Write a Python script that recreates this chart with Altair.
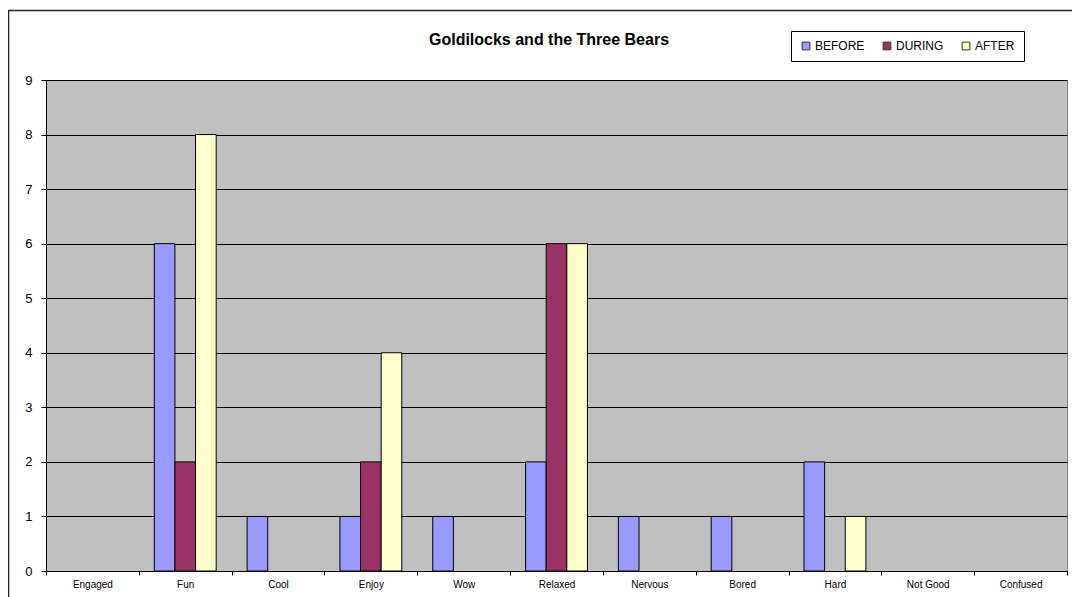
import altair as alt
import pandas as pd

categories = ["Engaged", "Fun", "Cool", "Enjoy", "Wow", "Relaxed", "Nervous", "Bored", "Hard", "Not Good", "Confused"]
series = ["BEFORE", "DURING", "AFTER"]
before = [0, 6, 1, 1, 1, 2, 1, 1, 2, 0, 0]
during = [0, 2, 0, 2, 0, 6, 0, 0, 0, 0, 0]
after = [0, 8, 0, 4, 0, 6, 0, 0, 1, 0, 0]
colors = ["#9999FF", "#993366", "#FFFFCC"]
title_text = "Goldilocks and the Three Bears"

rows = []
for i, c in enumerate(categories):
    for s, vals in zip(series, [before, during, after]):
        rows.append({"cat": c, "series": s, "value": vals[i]})
df = pd.DataFrame(rows)
df = df[df["value"] > 0]

W, H = 1021, 491

bars = alt.Chart(df).mark_bar(stroke="black", strokeWidth=1).encode(
    x=alt.X("cat:N", sort=categories, scale=alt.Scale(domain=categories, paddingInner=0, paddingOuter=0),
            axis=alt.Axis(title=None, labelAngle=0, labelFontSize=10, labelColor="black",
                          labelFont="Liberation Sans", tickBand="extent", tickSize=4,
                          tickColor="black", domainColor="black", labelPadding=4, grid=False)),
    xOffset=alt.XOffset("series:N", sort=series, scale=alt.Scale(domain=series, paddingInner=0, paddingOuter=0.75)),
    y=alt.Y("value:Q", scale=alt.Scale(domain=[0, 9], nice=False),
            axis=alt.Axis(title=None, values=list(range(10)), labelFontSize=13, labelColor="black",
                          labelFont="Liberation Sans", tickSize=5, tickColor="black", domainColor="black",
                          gridColor="black", gridOpacity=1, labelPadding=9)),
    color=alt.Color("series:N", sort=series, scale=alt.Scale(domain=series, range=colors),
                    legend=alt.Legend(title=None, orient="none", legendX=745, legendY=-49,
                                      direction="horizontal", symbolType="square", symbolSize=60,
                                      symbolStrokeColor="#333333", symbolStrokeWidth=1,
                                      labelFontSize=12, labelFont="Liberation Sans", labelColor="black",
                                      strokeColor="black", fillColor="white", padding=9,
                                      columnPadding=16, labelOffset=3)),
)

border = alt.Chart(pd.DataFrame({"a": [0]})).mark_rect(fill="transparent", stroke="#222222", strokeWidth=1.5, clip=False).encode(
    x=alt.value(-37.5), x2=alt.value(1045), y=alt.value(-69.5), y2=alt.value(535)
)

title = alt.Chart(pd.DataFrame({"t": [title_text]})).mark_text(
    font="Liberation Sans", fontSize=16, fontWeight="bold", color="black", align="center", baseline="middle"
).encode(text="t:N", x=alt.value(503), y=alt.value(-40))

chart = alt.layer(bars, border, title).properties(
    width=W, height=H,
    autosize=alt.AutoSizeParams(type="none"),
    padding={"left": 38, "top": 72, "right": 5, "bottom": 26},
).configure(background="white").configure_view(fill="#C0C0C0", stroke="#808080", strokeWidth=1)

chart.save("out.html", embed_options={"renderer": "svg", "actions": False})
